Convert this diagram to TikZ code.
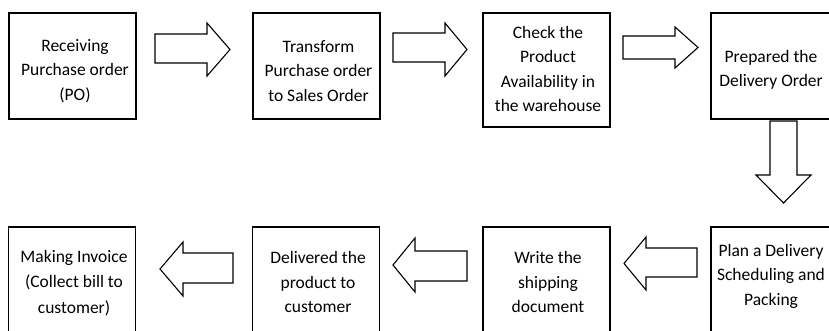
\documentclass[tikz,border=0pt]{standalone}
\usepackage{fontspec}
\setmainfont{Carlito}
\begin{document}
\begin{tikzpicture}[x=1pt,y=-1pt,
  stepbox/.style={draw=black, line width=1.7pt, fill=white,
    inner sep=0pt, minimum width=127pt, minimum height=106pt},
  steptext/.style={align=center, inner sep=0pt,
    font=\fontsize{17.5pt}{24.5pt}\selectfont},
  blockarrow/.style={draw=black, line width=1.1pt, fill=white, line join=miter}]
\useasboundingbox (0,0) rectangle (829,331);

% process step frames, top row (left to right)
\node[stepbox] (recv) at (72.5,66) {};
\node[stepbox] (trans) at (316.5,66) {};
\node[stepbox, minimum width=127pt, minimum height=114pt] (check) at (546.5,70) {};
\node[stepbox, minimum width=123pt] (prep) at (772.5,66) {};

% process step frames, bottom row (right to left)
\node[stepbox, minimum width=123pt] (plan) at (772.5,280) {};
\node[stepbox, minimum width=127pt] (write) at (546.5,280) {};
\node[stepbox] (deliv) at (316,280) {};
\node[stepbox] (inv) at (72,280) {};

% step labels
\node[steptext] (recvt) at (75,71) {Receiving\\Purchase order\\(PO)};
\node[steptext] (transt) at (318.5,71) {Transform\\Purchase order\\to Sales Order};
\node[steptext] (checkt) at (548,69) {Check the\\Product\\Availability in\\the warehouse};
\node[steptext] (prept) at (771,70) {Prepared the\\Delivery Order};
\node[steptext] (plant) at (771,276) {Plan a Delivery\\Scheduling and\\Packing};
\node[steptext] (writet) at (548,282) {Write the\\shipping\\document};
\node[steptext] (delivt) at (318,282) {Delivered the\\product to\\customer};
\node[steptext, font=\fontsize{17.5pt}{25.5pt}\selectfont] (invt) at (74,283) {Making Invoice\\(Collect bill to\\customer)};

% block arrows pointing right
\coordinate (r1) at (155,34);
\draw[blockarrow] (r1) -- ++(52,0) -- ++(0,-11) -- (230,49.5) -- (207,76) -- (207,63) -- (155,63) -- cycle;
\coordinate (r2) at (393,33);
\draw[blockarrow] (r2) -- ++(52,0) -- ++(0,-10) -- (467,49.5) -- (445,76) -- (445,62) -- (393,62) -- cycle;
\coordinate (r3) at (623,36);
\draw[blockarrow] (r3) -- ++(52,0) -- ++(0,-9) -- (698,47.5) -- (675,68) -- (675,59) -- (623,59) -- cycle;

% block arrow pointing down
\coordinate (d1) at (770,121);
\draw[blockarrow] (d1) -- (770,175) -- (756,175) -- (783.5,203) -- (811,175) -- (797,175) -- (797,121) -- cycle;

% block arrows pointing left
\coordinate (l1) at (697,248);
\draw[blockarrow] (l1) -- (646,248) -- (646,237) -- (624,263.5) -- (646,290) -- (646,277) -- (697,277) -- cycle;
\coordinate (l2) at (467,251);
\draw[blockarrow] (l2) -- (415,251) -- (415,238) -- (393,265) -- (415,292) -- (415,281) -- (467,281) -- cycle;
\coordinate (l3) at (233,253);
\draw[blockarrow] (l3) -- (183,253) -- (183,242) -- (160,269) -- (183,296) -- (183,283) -- (233,283) -- cycle;
\end{tikzpicture}
\end{document}
